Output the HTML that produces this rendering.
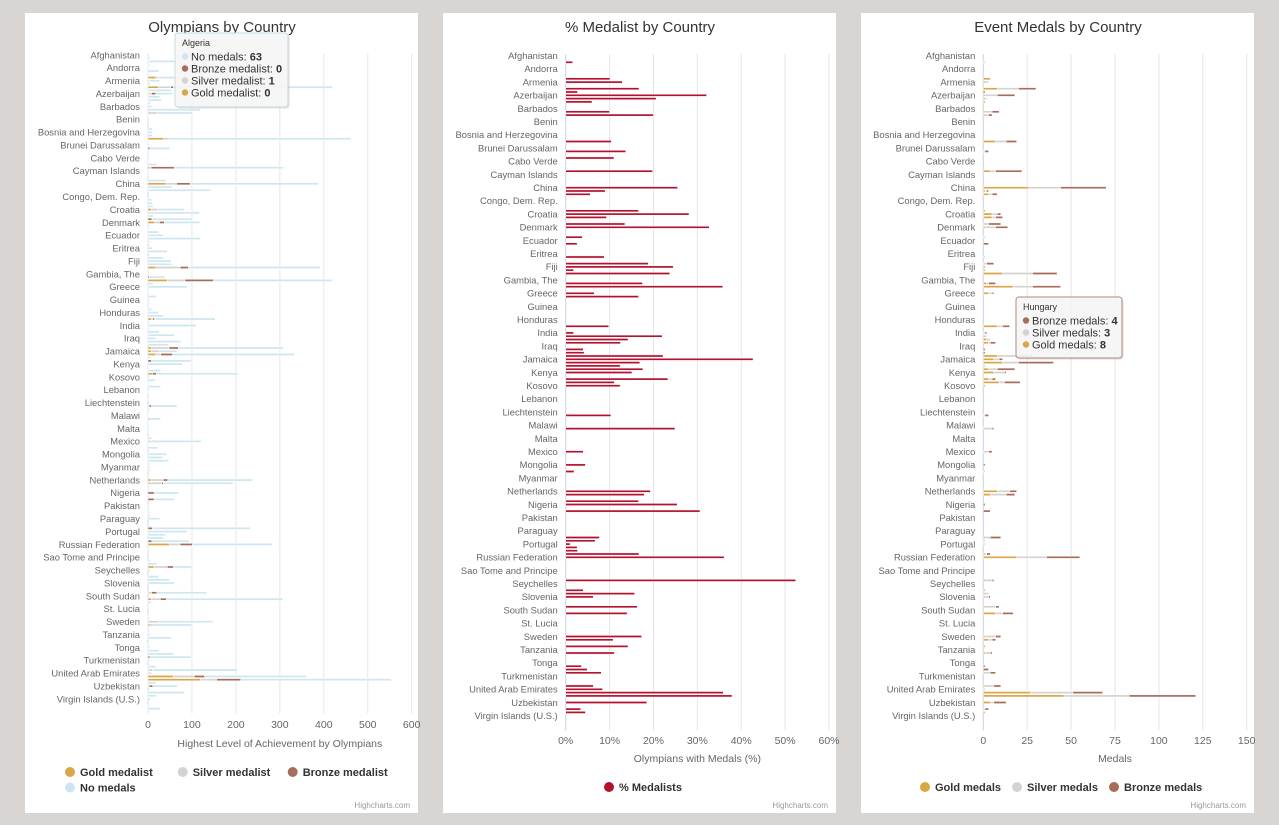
<!DOCTYPE html>
<html><head><meta charset="utf-8"><title>Olympics charts</title>
<style>
html,body{margin:0;padding:0;background:#d8d5d2;}
svg{display:block;font-family:"Liberation Sans","DejaVu Sans",sans-serif;}
</style></head>
<body>
<svg id="root" width="1279" height="825" viewBox="0 0 1279 825">
<rect x="0" y="0" width="1279" height="825" fill="#d8d5d2"/>
<g><rect x="25" y="13" width="393" height="800" fill="#fff"/>
<text x="222" y="32" font-size="15" fill="#333" text-anchor="middle">Olympians by Country</text>
<text x="410" y="808" font-size="8" fill="#999" text-anchor="end">Highcharts.com</text></g>
<g><rect x="443" y="13" width="393" height="800" fill="#fff"/>
<text x="640" y="32" font-size="15" fill="#333" text-anchor="middle">% Medalist by Country</text>
<text x="828" y="808" font-size="8" fill="#999" text-anchor="end">Highcharts.com</text></g>
<g><rect x="861" y="13" width="393" height="800" fill="#fff"/>
<text x="1058" y="32" font-size="15" fill="#333" text-anchor="middle">Event Medals by Country</text>
<text x="1246" y="808" font-size="8" fill="#999" text-anchor="end">Highcharts.com</text></g>
</svg>
<script>
const categories=["Afghanistan","Albania","Algeria","American Samoa","Andorra","Angola","Antigua and Barbuda","Argentina","Armenia","Aruba","Australia","Austria","Azerbaijan","Bahamas, The","Bahrain","Bangladesh","Barbados","Belarus","Belgium","Belize","Benin","Bermuda","Bhutan","Bolivia","Bosnia and Herzegovina","Botswana","Brazil","British Virgin Islands","Brunei Darussalam","Bulgaria","Burkina Faso","Burundi","Cabo Verde","Cambodia","Cameroon","Canada","Cayman Islands","Central African Republic","Chad","Chile","China","Chinese Taipei","Colombia","Comoros","Congo, Dem. Rep.","Congo, Rep.","Costa Rica","Cote d'Ivoire","Croatia","Cuba","Cyprus","Czech Republic","Denmark","Djibouti","Dominica","Dominican Republic","Ecuador","Egypt, Arab Rep.","El Salvador","Equatorial Guinea","Eritrea","Estonia","Ethiopia","Faroe Islands","Fiji","Finland","France","Gabon","Gambia, The","Georgia","Germany","Ghana","Greece","Grenada","Guam","Guatemala","Guinea","Guinea-Bissau","Guyana","Haiti","Honduras","Hong Kong SAR, China","Hungary","Iceland","India","Independent Olympic Athletes","Indonesia","Iran, Islamic Rep.","Iraq","Ireland","Israel","Italy","Jamaica","Japan","Jordan","Kazakhstan","Kenya","Kiribati","Korea, Dem. People's Rep.","Korea, Rep.","Kosovo","Kuwait","Kyrgyz Republic","Lao PDR","Lebanon","Lesotho","Liberia","Libya","Liechtenstein","Lithuania","Luxembourg","Madagascar","Malawi","Malaysia","Maldives","Mali","Malta","Marshall Islands","Mauritania","Mauritius","Mexico","Micronesia, Fed. Sts.","Moldova","Monaco","Mongolia","Montenegro","Morocco","Mozambique","Myanmar","Namibia","Nauru","Nepal","Netherlands","New Zealand","Nicaragua","Niger","Nigeria","Northern Mariana Islands","Norway","Oman","Pakistan","Palau","Panama","Papua New Guinea","Paraguay","Peru","Philippines","Poland","Portugal","Puerto Rico","Qatar","Romania","Russian Federation","Rwanda","Samoa","San Marino","Sao Tome and Principe","Saudi Arabia","Senegal","Serbia","Seychelles","Sierra Leone","Singapore","Slovak Republic","Slovenia","Solomon Islands","Somalia","South Africa","South Sudan","Spain","Sri Lanka","St. Kitts and Nevis","St. Lucia","St. Vincent and the Grenadines","Sudan","Suriname","Sweden","Switzerland","Syrian Arab Republic","Tajikistan","Tanzania","Thailand","Timor-Leste","Togo","Tonga","Trinidad and Tobago","Tunisia","Turkey","Turkmenistan","Tuvalu","Uganda","Ukraine","United Arab Emirates","United Kingdom","United States","Uruguay","Uzbekistan","Vanuatu","Venezuela, RB","Vietnam","Virgin Islands (U.S.)","West Bank and Gaza","Yemen, Rep.","Zambia","Zimbabwe"];

// Chart 1: Olympians by highest achievement
const p1Index=[0,1,2,3,4,5,6,7,8,9,10,11,12,13,14,15,16,17,18,19,20,21,23,24,25,26,27,28,29,30,31,32,33,34,35,36,37,39,40,41,42,45,46,47,48,49,50,51,52,53,54,55,56,57,58,60,61,63,64,65,66,67,68,69,70,71,72,73,74,75,76,77,78,79,80,81,82,83,84,85,86,87,88,89,90,91,92,93,94,95,96,97,98,99,100,101,102,103,104,105,107,109,110,111,112,113,114,115,116,117,119,120,121,122,124,125,126,127,128,129,131,132,133,134,135,136,137,138,140,141,142,143,144,147,148,149,150,151,152,153,154,157,158,159,160,162,163,164,167,169,170,171,172,174,175,176,177,178,179,180,181,183,184,185,186,187,188,190,191,192,193,194,195,196,198,199,200,202,203,204];
const p1Gold=[0,0,0,0,0,0,0,18,0,0,24,0,1,2,1,0,0,0,0,0,0,0,0,0,0,35,0,0,0,0,0,0,0,0,4,0,0,0,41,0,0,0,0,0,8,0,0,0,15,0,0,0,0,0,0,0,0,0,0,0,18,0,0,0,44,0,0,0,0,0,0,0,0,0,0,0,8,0,0,0,0,2,0,0,0,8,8,18,0,0,2,0,0,11,0,0,0,0,0,0,0,0,0,0,0,0,0,0,0,0,0,0,0,0,0,0,0,0,0,0,0,7,4,0,0,0,0,0,0,0,0,0,0,0,0,0,0,0,49,0,0,0,0,14,0,0,0,0,0,8,0,0,0,0,0,0,4,0,0,0,0,0,0,0,0,0,0,0,0,0,58,119,0,0,0,0,0,0,0,0];
const p1Silver=[0,0,1,0,0,0,0,5,3,0,28,0,7,0,0,0,0,0,20,0,0,0,0,0,0,14,0,0,0,0,0,0,0,0,3,0,0,0,24,0,3,0,0,0,15,0,0,0,11,0,0,0,0,0,0,0,0,0,0,0,55,0,0,0,40,0,0,0,0,0,0,0,0,0,0,0,3,0,0,0,0,0,0,0,0,40,19,11,0,0,0,0,0,0,0,0,0,0,0,0,0,3,0,0,0,8,0,0,0,0,0,5,0,0,0,0,0,0,0,0,0,28,27,0,0,0,0,0,0,0,0,0,0,0,0,0,0,0,24,0,0,0,0,30,0,0,4,0,8,20,0,0,0,0,0,25,8,0,0,0,0,0,0,0,0,0,0,0,10,0,47,37,0,3,0,0,0,0,0,0];
const p1Bronze=[0,0,0,0,0,0,0,0,0,0,6,1,10,0,0,0,0,2,0,0,0,0,0,0,0,0,0,0,4,0,0,0,0,0,53,0,0,0,31,0,0,0,0,0,0,2,0,9,11,0,0,0,0,0,0,0,0,2,0,0,19,0,0,3,65,0,0,0,0,0,0,0,0,0,0,0,4,0,0,0,0,0,0,0,0,21,0,27,0,8,0,0,0,8,0,0,0,0,0,0,0,5,0,0,0,0,0,0,0,0,0,0,0,0,0,0,0,0,0,0,0,10,4,0,0,14,0,14,0,0,0,0,0,10,0,0,0,9,28,0,0,0,0,14,0,0,0,0,12,14,0,0,0,0,0,0,0,0,0,0,0,0,0,0,0,4,0,0,0,0,24,55,0,8,0,0,0,0,0,0];
const p1None=[3,5,63,3,2,25,3,180,24,5,362,53,38,25,30,5,8,117,82,2,3,3,10,10,10,413,2,3,46,2,3,3,2,20,248,2,2,41,292,54,139,8,10,12,59,115,12,93,81,4,2,24,35,119,4,10,44,33,53,54,300,2,2,36,270,12,90,2,3,18,3,3,3,8,24,35,138,3,110,3,26,58,18,75,47,239,39,278,5,90,76,2,29,186,3,16,2,29,3,2,2,58,4,2,2,21,2,2,3,2,8,116,2,22,43,34,47,3,5,5,3,192,159,3,3,56,3,46,3,3,4,5,27,223,89,39,35,85,182,3,3,5,20,42,5,24,46,60,114,265,7,3,3,2,3,123,88,3,3,5,53,2,4,26,59,94,4,18,193,9,231,343,18,56,83,19,5,4,28,3];
const p1Ticks=[0,100,200,300,400,500,600];

// Chart 2: % medalists
const pctIndex=[2,7,8,10,11,12,13,14,17,18,26,29,31,35,40,41,42,47,48,49,51,52,55,57,61,63,64,65,66,69,70,72,73,82,84,85,86,87,89,90,91,92,93,94,95,96,98,99,100,109,113,120,124,126,132,133,135,136,138,146,147,148,149,150,151,152,159,162,163,164,167,169,176,177,179,181,185,186,187,191,192,193,194,196,198,199];
const pctValues=[1.6,10.1,12.9,16.7,2.7,32.1,20.6,6.0,10.0,20.0,10.4,13.7,11.0,19.8,25.5,9.0,5.6,16.6,28.1,9.3,13.5,32.7,3.8,2.6,8.8,18.8,24.5,1.8,23.7,17.5,35.8,6.5,16.6,9.8,1.8,22.0,14.2,12.5,4.0,4.2,22.2,42.7,16.9,12.4,17.6,15.1,23.3,11.1,12.4,10.3,24.9,4.0,4.5,1.9,19.3,17.9,16.6,25.4,30.6,7.7,6.7,1.0,2.6,2.7,16.7,36.1,52.4,4.0,15.7,6.3,16.3,14.0,17.3,10.8,14.2,11.1,3.6,4.9,8.1,6.3,8.4,35.9,37.9,18.5,3.4,4.5];
const pctTicks=[0,10,20,30,40,50,60];

// Chart 3: event medals
const medalIndex=[2,7,8,10,11,12,13,14,17,18,26,29,35,40,41,42,47,48,49,51,52,55,57,61,63,64,65,66,69,70,72,82,84,85,86,87,89,90,91,92,93,94,95,96,98,99,100,109,113,120,124,126,132,133,136,138,146,147,148,151,152,159,162,163,164,167,169,176,177,179,181,185,186,187,191,192,193,194,196,198,199];
const goldMedals=[0,4,1,8,0,1,1,1,1,1,7,0,4,26,1,3,1,5,5,0,1,0,0,0,0,1,1,11,2,17,3,8,0,1,2,3,0,0,8,6,11,0,3,6,3,9,1,0,0,0,0,0,8,4,0,0,1,0,0,1,19,1,1,1,0,1,7,1,3,1,1,0,0,0,1,0,27,46,4,0,1];
const silverMedals=[1,0,2,12,0,7,1,0,4,2,6,1,3,18,1,2,0,3,2,3,6,1,0,1,2,0,0,17,1,11,2,3,1,1,2,1,0,0,12,3,9,1,5,6,2,3,0,1,5,3,0,1,7,9,0,0,3,1,1,1,17,4,0,2,3,6,4,6,2,0,3,0,0,4,5,1,24,37,2,1,0];
const bronzeMedals=[0,0,0,10,1,10,0,0,4,2,6,2,15,26,1,3,0,2,4,7,7,0,3,0,4,0,0,14,4,16,1,4,1,0,0,3,1,1,8,2,20,0,10,1,2,9,0,2,1,2,1,0,4,5,1,4,6,0,0,2,19,1,0,0,1,2,6,3,2,0,1,1,3,3,4,0,17,38,7,2,0];
const medalTicks=[0,25,50,75,100,125,150];

const NS="http://www.w3.org/2000/svg";
const root=document.getElementById('root');
const C={gold:"#d9a648",silver:"#d5d2cf",bronze:"#a86c5a",none:"#cde6ef",pct:"#b3122e"};
function mk(tag,attrs,parent){const e=document.createElementNS(NS,tag);for(const k in attrs)e.setAttribute(k,attrs[k]);(parent||root).appendChild(e);return e;}

function makeAxis(P,ticks,suffix,title){
  const xs=v=>P.left+(v-ticks[0])/(ticks[ticks.length-1]-ticks[0])*(P.right-P.left);
  const yc=i=>P.top+P.step*(i+0.5);
  const bottom=P.top+P.step*categories.length;
  ticks.forEach(t=>{
    const l=mk('line',{x1:xs(t),x2:xs(t),y1:P.top,y2:bottom,stroke:"#e6e6e6","stroke-width":1});
    
    
    const tx=mk('text',{x:xs(t),y:P.tickY,"font-size":10.5,fill:"#666","text-anchor":"middle"});
    tx.textContent=t+suffix;
    
    
  });
  const ax=mk('line',{x1:P.left,x2:P.left,y1:P.top,y2:bottom,stroke:"#ccd6eb","stroke-width":1});
  
  
  categories.forEach((c,i)=>{
    if(i%4!==0||i>200)return;
    const t=mk('text',{x:P.left-8,y:yc(i)+3.3,"font-size":9.4,fill:"#666","text-anchor":"end"});
    t.textContent=c;
    
    
  });
  const at=mk('text',{x:(P.left+P.right)/2,y:P.titleY,"font-size":10.5,fill:"#666","text-anchor":"middle"});
  at.textContent=title;
  
  
  return {xs,yc};
}
function bar(x,y,w,h,fill,name){
  if(w<=0)return;
  const r=mk('rect',{x:x,y:y,width:w,height:h,fill:fill,stroke:"#fff","stroke-width":0.5});
  
  
}
function legendItem(cx,cy,color,label){
  const c=mk('circle',{cx:cx,cy:cy,r:5,fill:color});
  
  
  const t=mk('text',{x:cx+10,y:cy+4,"font-size":11,"font-weight":"bold",fill:"#333"});
  t.textContent=label;
  
  
}
const BH=2.2;

// Panel 1
const P1={left:148,right:411.7,top:53.4,step:3.22,tickY:728,titleY:747};
const A1=makeAxis(P1,p1Ticks,"","Highest Level of Achievement by Olympians");
p1Index.forEach((ci,k)=>{
  const segs=[[p1Gold[k],C.gold,'bar-gold-medalist'],[p1Silver[k],C.silver,'bar-silver-medalist'],[p1Bronze[k],C.bronze,'bar-bronze-medalist'],[p1None[k],C.none,'bar-no-medals']];
  let acc=0;const y=A1.yc(ci)-BH/2;
  segs.forEach(s=>{const x0=A1.xs(acc);acc+=s[0];bar(x0,y,A1.xs(acc)-x0,BH,s[1],s[2]);});
});
legendItem(70,772,C.gold,"Gold medalist");
legendItem(182.7,772,C.silver,"Silver medalist");
legendItem(292.7,772,C.bronze,"Bronze medalist");
legendItem(70,787.5,C.none,"No medals");

// Panel 2
const P2={left:565.7,right:829,top:54.05,step:3.3,tickY:744,titleY:762};
const A2=makeAxis(P2,pctTicks,"%","Olympians with Medals (%)");
pctIndex.forEach((ci,k)=>{const y=A2.yc(ci)-BH/2;bar(A2.xs(0),y,A2.xs(pctValues[k])-A2.xs(0),BH,C.pct,'bar-pct-medalists');});
legendItem(609,787,C.pct,"% Medalists");

// Panel 3
const P3={left:983.3,right:1246.7,top:54.05,step:3.3,tickY:744,titleY:762};
const A3=makeAxis(P3,medalTicks,"","Medals");
medalIndex.forEach((ci,k)=>{
  const segs=[[goldMedals[k],C.gold,'bar-gold-medals'],[silverMedals[k],C.silver,'bar-silver-medals'],[bronzeMedals[k],C.bronze,'bar-bronze-medals']];
  let acc=0;const y=A3.yc(ci)-BH/2;
  segs.forEach(s=>{const x0=A3.xs(acc);acc+=s[0];bar(x0,y,A3.xs(acc)-x0,BH,s[1],s[2]);});
});
legendItem(925,787,C.gold,"Gold medals");
legendItem(1017,787,C.silver,"Silver medals");
legendItem(1114,787,C.bronze,"Bronze medals");

// Tooltips
function tooltip(x,y,w,h,border,header,rows,name){
  const g=mk('g',{});
  
  
  mk('rect',{x:x+1.5,y:y+1.5,width:w,height:h,rx:3,fill:"rgba(0,0,0,0.12)"},g);
  mk('rect',{x:x,y:y,width:w,height:h,rx:3,fill:"rgba(247,247,247,0.92)",stroke:border,"stroke-width":1},g);
  const ht=mk('text',{x:x+7,y:y+13,"font-size":9,fill:"#333"},g);ht.textContent=header;
  rows.forEach((r,i)=>{
    const cy=y+23.5+i*12;
    mk('circle',{cx:x+10,cy:cy,r:3.2,fill:r[0]},g);
    const t=mk('text',{x:x+16,y:cy+4,"font-size":11,fill:"#333"},g);
    t.appendChild(document.createTextNode(r[1]+": "));
    const b=mk('tspan',{"font-weight":"bold"},t);b.textContent=r[2];
  });
}
tooltip(175,33,113,74,"#c6dbe3","Algeria",[[C.none,"No medals","63"],[C.bronze,"Bronze medalist","0"],[C.silver,"Silver medalist","1"],[C.gold,"Gold medalist","0"]],'tooltip-algeria');
tooltip(1016,297,106,61,"#b08a7d","Hungary",[[C.bronze,"Bronze medals","4"],[C.silver,"Silver medals","3"],[C.gold,"Gold medals","8"]],'tooltip-hungary');
</script>
</body></html>
